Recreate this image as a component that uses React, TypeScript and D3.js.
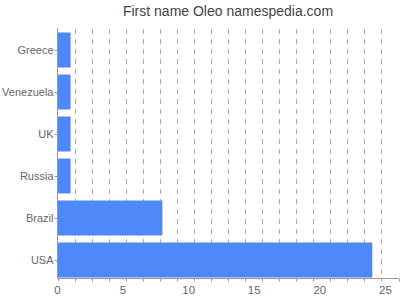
import React from "react";
import * as d3 from "d3";

const categories = ["Greece", "Venezuela", "UK", "Russia", "Brazil", "USA"];
const values = [1, 1, 1, 1, 8, 24];
const xTickValues = [0, 5, 10, 15, 20, 25];
const xMax = 26;
const gridDivisions = 20;

const W = 400;
const H = 300;
const left = 57.5;
const right = 398.5;
const top = 29;
const bottom = 281;
const axisY = 278.5;

export default function App() {
  const x = d3.scaleLinear().domain([0, xMax]).range([left, right]);
  const y = d3
    .scaleBand<string>()
    .domain(categories)
    .range([top, bottom])
    .paddingInner(1 / 6)
    .paddingOuter(1 / 12);
  const gridXs = d3.range(1, gridDivisions + 1).map((i) => left + ((right - left) * i) / gridDivisions);
  const font = "Arial, 'Liberation Sans', Helvetica, sans-serif";
  return (
    <svg
      width={W}
      height={H}
      style={{ position: "absolute", left: 0, top: 0, background: "#fff" }}
      fontFamily={font}
    >
      <text x={(left + right) / 2} y={16} textAnchor="middle" fontSize={14} fill="#444">
        First name Oleo namespedia.com
      </text>
      {gridXs.slice(0, gridDivisions - 1).map((gx, i) => (
        <line
          key={"g" + i}
          x1={Math.round(gx) + 0.5}
          x2={Math.round(gx) + 0.5}
          y1={top}
          y2={axisY}
          stroke="#aaa"
          strokeWidth={1}
          strokeDasharray="5,5"
        />
      ))}
      {categories.map((c, i) => (
        <rect
          key={c}
          x={x(0)}
          y={y(c)}
          width={x(values[i]) - x(0)}
          height={y.bandwidth()}
          fill="#4D89F9"
        />
      ))}
      <line x1={left} x2={left} y1={top - 1} y2={axisY} stroke="#999" />
      <line x1={left} x2={right} y1={axisY} y2={axisY} stroke="#999" />
      {[left, ...gridXs].map((gx, i) => (
        <line
          key={"t" + i}
          x1={Math.round(gx) + 0.5}
          x2={Math.round(gx) + 0.5}
          y1={axisY}
          y2={axisY + 3}
          stroke="#999"
        />
      ))}
      {categories.map((c) => {
        const cy = (y(c) as number) + y.bandwidth() / 2;
        return (
          <g key={"l" + c}>
            <line x1={left - 3} x2={left} y1={Math.round(cy) + 0.5} y2={Math.round(cy) + 0.5} stroke="#999" />
            <text x={left - 4} y={cy} dy="0.35em" textAnchor="end" fontSize={11} fill="#666">
              {c}
            </text>
          </g>
        );
      })}
      {xTickValues.map((t) => (
        <text key={"x" + t} x={x(t)} y={294} textAnchor="middle" fontSize={11.5} fill="#666">
          {t}
        </text>
      ))}
    </svg>
  );
}
